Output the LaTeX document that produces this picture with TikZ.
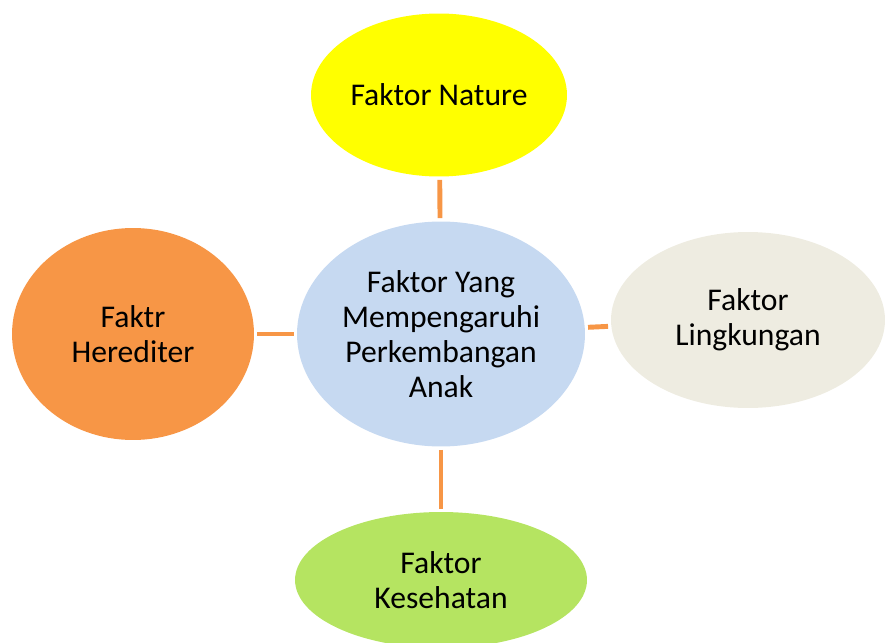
\documentclass[tikz,border=0pt]{standalone}
\usepackage{fontspec}
\setmainfont{Carlito}
\usepackage{xcolor}
\definecolor{NatureYellow}{HTML}{FFFF00}
\definecolor{CoreBlue}{HTML}{C6D9F1}
\definecolor{HeredOrange}{HTML}{F79646}
\definecolor{EnvBeige}{HTML}{EEECE1}
\definecolor{HealthGreen}{HTML}{B5E461}
\definecolor{LinkOrange}{HTML}{F79646}
\usepackage{tikz}
\usetikzlibrary{shapes.geometric}

\begin{document}
\begin{tikzpicture}[x=0.02cm, y=-0.02cm,
  factor/.style={ellipse, inner sep=0pt, align=center, text=black,
    font=\fontsize{18}{20}\selectfont},
  link/.style={LinkOrange, line width=2.8pt, shorten >=1.7pt, shorten <=1.7pt}]
  \useasboundingbox (0,0) rectangle (885,642);

  % Center
  \node[factor, fill=CoreBlue, minimum width=5.76cm, minimum height=4.5cm] (core) at (441,334)
    {Faktor Yang\\Mempengaruhi\\Perkembangan\\Anak};

  % Factors
  \node[factor, fill=NatureYellow, minimum width=5.12cm, minimum height=3.26cm] (nature) at (439,95) {Faktor Nature};
  \node[factor, fill=HeredOrange, minimum width=4.84cm, minimum height=4.24cm] (hered) at (133,334) {Faktr\\Herediter};
  \node[factor, fill=EnvBeige, minimum width=5.48cm, minimum height=3.52cm] (env) at (748,320) {Faktor\\Lingkungan};
  \node[factor, fill=HealthGreen, minimum width=5.84cm, minimum height=2.72cm] (health) at (441,580) {Faktor\\Kesehatan};

  % Links
  \draw[link] (core) -- (nature);
  \draw[link] (core) -- (hered);
  \draw[link] (core) -- (env);
  \draw[link] (core) -- (health);
\end{tikzpicture}
\end{document}
